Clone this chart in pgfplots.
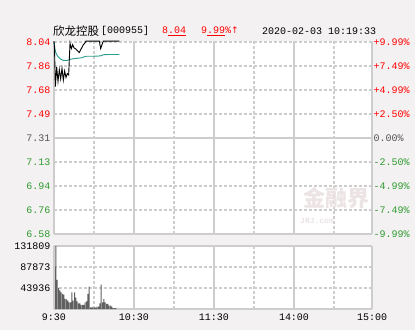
\documentclass[border=0pt]{standalone}
\usepackage{pgfplots}
\pgfplotsset{compat=1.18}
\usepackage{fontspec}
\setmainfont{Liberation Mono}
\newfontfamily\cjk{Noto Sans CJK SC}
\newfontfamily\dvs{DejaVu Sans}
\definecolor{bgc}{HTML}{F3F1F1}
\definecolor{gridc}{HTML}{CDCDCD}
\definecolor{upred}{HTML}{FF0000}
\definecolor{dngreen}{HTML}{2F9A2F}
\definecolor{midgray}{HTML}{555555}
\definecolor{avgteal}{HTML}{2A9D8F}
\definecolor{volgray}{HTML}{606060}
\definecolor{wm}{HTML}{ECE4E4}
\pgfplotsset{/pgf/number format/assume math mode=true}
\tikzset{dgrid/.style={draw=gridc,dash pattern=on 3pt off 2pt,line width=2pt},
         sgrid/.style={draw=gridc,solid,line width=2pt}}
\begin{document}
\begin{tikzpicture}[x=1pt,y=1pt]
\fill[bgc] (0,0) rectangle (415,330);
\path[use as bounding box] (0,0) rectangle (415,330);
% title
\node[anchor=west,inner sep=0pt,font=\cjk\fontsize{11.5}{12}\selectfont] at (53,299) {欣龙控股};
\node[anchor=west,inner sep=0pt,font=\fontsize{10}{12}\selectfont] at (101,299) {[000955]};
\node[anchor=west,inner sep=0pt,font=\fontsize{10}{12}\selectfont,text=upred] at (162,299) {8\underline{.04}};
\node[anchor=west,inner sep=0pt,font=\fontsize{10}{12}\selectfont,text=upred] at (201,299) {9\underline{.99}\%{\dvs\fontsize{9}{12}\selectfont↑}};
\node[anchor=west,inner sep=0pt,font=\fontsize{10}{12}\selectfont] at (262,299) {2020-02-03 10:19:33};
% main price axis
\begin{axis}[at={(54pt,96pt)},anchor=south west,scale only axis,
  width=318pt,height=193.5pt,xmin=0,xmax=238.5,ymin=6.58,ymax=8.051406,
  axis line style={draw=none},
  axis background/.style={fill=white},
  xtick={30,90,150,210},xticklabels={},
  ytick={6.58,6.7625,6.945,7.1275,7.31,7.4925,7.675,7.8575,8.04},
  yticklabels={\textcolor{dngreen}{6.58},\textcolor{dngreen}{6.76},\textcolor{dngreen}{6.94},\textcolor{dngreen}{7.13},\textcolor{midgray}{7.31},\textcolor{upred}{7.49},\textcolor{upred}{7.68},\textcolor{upred}{7.86},\textcolor{upred}{8.04}},
  major tick length=0pt,
  xmajorgrids=true,ymajorgrids=true,
  major grid style={dgrid},
  yticklabel style={font=\fontsize{10}{12}\selectfont},
  extra y ticks={6.58,7.31},
  extra y tick labels={},
  extra y tick style={grid=major,major grid style={sgrid}},
  extra x ticks={0,60,120,180,238.5},
  extra x tick labels={},
  extra x tick style={grid=major,major grid style={sgrid}},
  clip=false]
  \node[font=\cjk\bfseries\fontsize{22}{24}\selectfont,text=wm,anchor=center] at (axis cs:212,6.85) {金融界};
  \node[font=\bfseries\fontsize{8}{9}\selectfont,text=wm,anchor=west] at (axis cs:182,6.68) {JRJ.com};
  \addplot[avgteal,line width=0.9pt] coordinates {
    (0,8.04) (1,7.97) (2,7.945) (3,7.93) (4,7.92) (5,7.91) (6,7.905) (7,7.90) (8,7.90)
    (9,7.90) (10,7.90) (11,7.903) (12,7.907) (13,7.91) (14,7.912) (15,7.914) (16,7.915)
    (17,7.916) (18,7.917) (19,7.918) (20,7.919) (21,7.921) (22,7.925) (23,7.929) (24,7.931)
    (25,7.932) (26,7.932) (27,7.932) (28,7.932) (29,7.932) (30,7.932) (31,7.933) (32,7.933)
    (33,7.933) (34,7.934) (35,7.935) (36,7.938) (37,7.943) (38,7.944) (39,7.944) (40,7.944)
    (41,7.945) (42,7.945) (43,7.945) (44,7.945) (45,7.945) (46,7.945) (47,7.945) (48,7.945) (49,7.945)};
  \addplot[black,line width=0.9pt] coordinates {
    (0,8.047) (0.4,7.99) (1,7.70) (2,7.85) (3,7.74) (4,7.83) (5,7.76) (6,7.84) (7,7.75)
    (8,7.82) (9,7.77) (10,7.80) (11,7.79) (12,8.03) (13,7.99) (14,8.02) (15,7.995)
    (16,7.99) (17,7.98) (18,7.97) (19,7.96) (20,7.98) (21,8.00) (22,8.02) (23,8.03)
    (24,8.047) (25,8.047) (26,8.047) (27,8.047) (28,8.047) (29,8.047) (30,8.047) (31,8.047)
    (32,8.047) (33,8.047) (34,8.047) (35,7.99) (36,8.02) (37,8.047) (38,8.047) (39,8.047)
    (40,8.047) (41,8.047) (42,8.047) (43,8.047) (44,8.047) (45,8.047) (46,8.047) (47,8.047) (48,8.047) (49,8.047)};
\end{axis}
% right percentage labels
\begin{axis}[at={(54pt,96pt)},anchor=south west,scale only axis,
  width=318pt,height=193.5pt,xmin=0,xmax=238.5,ymin=6.58,ymax=8.051406,
  hide x axis,axis y line*=right,y axis line style={draw=none},
  ytick={6.58,6.7625,6.945,7.1275,7.31,7.4925,7.675,7.8575,8.04},
  yticklabels={\textcolor{dngreen}{-9.99\%},\textcolor{dngreen}{-7.49\%},\textcolor{dngreen}{-4.99\%},\textcolor{dngreen}{-2.50\%},\textcolor{midgray}{0.00\%},\textcolor{upred}{+2.50\%},\textcolor{upred}{+4.99\%},\textcolor{upred}{+7.49\%},\textcolor{upred}{+9.99\%}},
  major tick length=0pt,
  yticklabel style={font=\fontsize{10}{12}\selectfont,xshift=-2pt}]
\end{axis}
% volume axis
\begin{axis}[at={(54pt,21pt)},anchor=south west,scale only axis,
  width=318pt,height=63pt,xmin=0,xmax=238.5,ymin=0,ymax=131809,
  axis line style={draw=none},
  axis background/.style={fill=white},
  xtick={0,60,120,180,238.5},xticklabels={9:30,10:30,11:30,14:00,15:00},
  ytick={43936,87873,131809},yticklabels={43936,87873,131809},
  scaled y ticks=false,
  major tick length=0pt,
  ymajorgrids=true,
  major grid style={dgrid},
  yticklabel style={font=\fontsize{10}{12}\selectfont,text=black},
  xticklabel style={font=\fontsize{10}{12}\selectfont,text=black,yshift=-1pt},
  extra y ticks={0,131809},
  extra y tick labels={},
  extra y tick style={grid=major,major grid style={sgrid}},
  extra x ticks={30,90,150,210},
  extra x tick labels={},
  extra x tick style={grid=major,major grid style={dgrid}},
  clip=true]
  \addplot[ybar,bar width=0.8,fill=volgray,draw=none] coordinates {
    (0.4,88000) (1.4,131809) (2.4,61000) (3.4,44000) (4.4,39000) (5.4,35000) (6.4,31800)
    (7.4,30000) (8.4,21000) (9.4,20000) (10.4,17700) (11.4,14000) (12.4,14000) (13.4,35000)
    (14.4,17700) (15.4,35000) (16.4,24000) (17.4,16000) (18.4,12000) (19.4,12000) (20.4,8500)
    (21.4,8500) (22.4,8500) (23.4,14000) (24.4,16000) (25.4,31800) (26.4,47000) (27.4,3500)
    (28.4,3500) (29.4,3500) (30.4,3500) (31.4,3000) (32.4,4900) (33.4,4900) (34.4,12000)
    (35.4,51000) (36.4,14000) (37.4,21000) (38.4,14000) (39.4,10500) (40.4,10500) (41.4,7000)
    (42.4,7000) (43.4,4900) (44.4,2000) (45.4,2000) (46.4,2000)};
\end{axis}
% solid vertical lines of the volume panel
\begin{axis}[at={(54pt,21pt)},anchor=south west,scale only axis,
  width=318pt,height=63pt,xmin=0,xmax=238.5,ymin=0,ymax=131809,
  axis line style={draw=none},ytick=\empty,xtick={0,60,120,180,238.5},xticklabels={},
  major tick length=0pt,xmajorgrids=true,major grid style={sgrid}]
\end{axis}
\end{tikzpicture}
\end{document}
